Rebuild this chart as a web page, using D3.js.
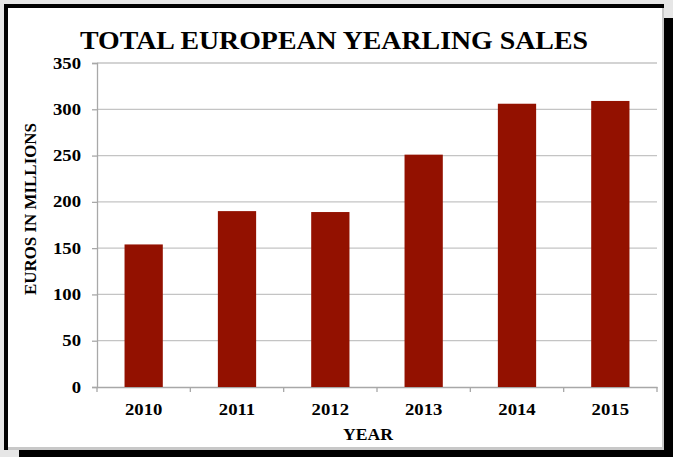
<!DOCTYPE html>
<html>
<head>
<meta charset="utf-8">
<script src="https://cdn.jsdelivr.net/npm/d3@7"></script>
<style>
  body { margin: 0; background: #e6e6e6; }
  svg { display: block; }
</style>
</head>
<body>
<svg></svg>
<script>
const years = ["2010", "2011", "2012", "2013", "2014", "2015"];
const sales = [154, 190, 189, 251, 306, 309];
const yTicks = [0, 50, 100, 150, 200, 250, 300, 350];

const width = 673;
const height = 457;
const plot = { left: 97, right: 657, top: 63, bottom: 387 };
const serif = "'Liberation Serif', 'Times New Roman', serif";
const stretch = 1.17; // source image is stretched sideways

let xScale;
let yScale;

const drawCanvas = () => {
  const svg = d3.select("svg")
    .attr("width", width)
    .attr("height", height);

  svg.append("rect").attr("width", width).attr("height", height).attr("fill", "#e6e6e6");
  // drop shadow
  svg.append("rect").attr("x", 19).attr("y", 18).attr("width", 680).attr("height", 460).attr("fill", "#000");
  // frame
  svg.append("rect").attr("x", 4).attr("y", 4).attr("width", 660).attr("height", 446).attr("fill", "#000");
  svg.append("rect").attr("x", 8).attr("y", 8).attr("width", 656).attr("height", 442).attr("fill", "#c8c8c8");
  svg.append("rect").attr("x", 8).attr("y", 8).attr("width", 654).attr("height", 439).attr("fill", "#fff");
}

const generateScales = () => {
  xScale = d3.scaleBand()
    .domain(years)
    .range([plot.left, plot.right])
    .paddingInner(0.59)
    .paddingOuter(0.295);

  yScale = d3.scaleLinear()
    .domain([0, 350])
    .range([plot.bottom, plot.top]);
}

const generateAxes = () => {
  const svg = d3.select("svg");

  // gridlines
  svg.append("g")
    .selectAll("line")
    .data(yTicks.filter((d) => d > 0))
    .enter()
    .append("line")
    .attr("x1", plot.left)
    .attr("x2", plot.right)
    .attr("y1", (d) => yScale(d))
    .attr("y2", (d) => yScale(d))
    .attr("stroke", "#c4c4c4")
    .attr("stroke-width", 1.3);

  const yAxis = d3.axisLeft(yScale).tickValues(yTicks).tickSize(5).tickPadding(0);
  const yG = svg.append("g")
    .attr("transform", "translate(" + plot.left + ", 0)")
    .call(yAxis);
  yG.select(".domain").attr("stroke", "#a8a8a8").attr("stroke-width", 1.3);
  yG.selectAll(".tick line").attr("stroke", "#a8a8a8").attr("stroke-width", 1.3);
  yG.selectAll(".tick text")
    .attr("x", -16 / stretch)
    .attr("transform", "scale(" + stretch + ",1)")
    .style("font-family", serif)
    .style("font-weight", "bold")
    .style("font-size", "16px")
    .attr("fill", "#000");

  const xAxis = d3.axisBottom(xScale).tickSize(0).tickPadding(17);
  const xG = svg.append("g")
    .attr("transform", "translate(0, " + plot.bottom + ")")
    .call(xAxis);
  xG.select(".domain").attr("stroke", "#a8a8a8").attr("stroke-width", 1.3);
  xG.selectAll(".tick text")
    .attr("transform", "scale(" + stretch + ",1)")
    .attr("x", 0)
    .style("font-family", serif)
    .style("font-weight", "bold")
    .style("font-size", "16px")
    .attr("fill", "#000");

  // category boundary ticks
  const gap = (xScale.step() - xScale.bandwidth()) / 2;
  const bounds = years.map((d) => xScale(d) - gap).concat([plot.right]);
  svg.append("g")
    .selectAll("line")
    .data(bounds)
    .enter()
    .append("line")
    .attr("x1", (d) => d)
    .attr("x2", (d) => d)
    .attr("y1", plot.bottom)
    .attr("y2", plot.bottom + 5)
    .attr("stroke", "#a8a8a8")
    .attr("stroke-width", 1.3);
}

const generateBars = () => {
  d3.select("svg")
    .append("g")
    .selectAll("rect")
    .data(years)
    .enter()
    .append("rect")
    .attr("x", (d) => xScale(d))
    .attr("width", xScale.bandwidth())
    .attr("y", (d, i) => yScale(sales[i]))
    .attr("height", (d, i) => plot.bottom - yScale(sales[i]))
    .attr("fill", "#931100");
}

const generateTexts = () => {
  const svg = d3.select("svg");

  svg.append("text")
    .text("TOTAL EUROPEAN YEARLING SALES")
    .attr("x", 80)
    .attr("y", 49)
    .attr("textLength", 508)
    .attr("lengthAdjust", "spacingAndGlyphs")
    .style("font-family", serif)
    .style("font-weight", "bold")
    .style("font-size", "26px");

  svg.append("text")
    .text("YEAR")
    .attr("x", 343)
    .attr("y", 440)
    .attr("textLength", 50)
    .attr("lengthAdjust", "spacingAndGlyphs")
    .style("font-family", serif)
    .style("font-weight", "bold")
    .style("font-size", "16px");

  svg.append("text")
    .text("EUROS IN MILLIONS")
    .attr("transform", "translate(36, 295) rotate(-90)")
    .attr("textLength", 172)
    .attr("lengthAdjust", "spacingAndGlyphs")
    .style("font-family", serif)
    .style("font-weight", "bold")
    .style("font-size", "16.5px");
}

drawCanvas();
generateScales();
generateAxes();
generateBars();
generateTexts();
</script>
</body>
</html>
